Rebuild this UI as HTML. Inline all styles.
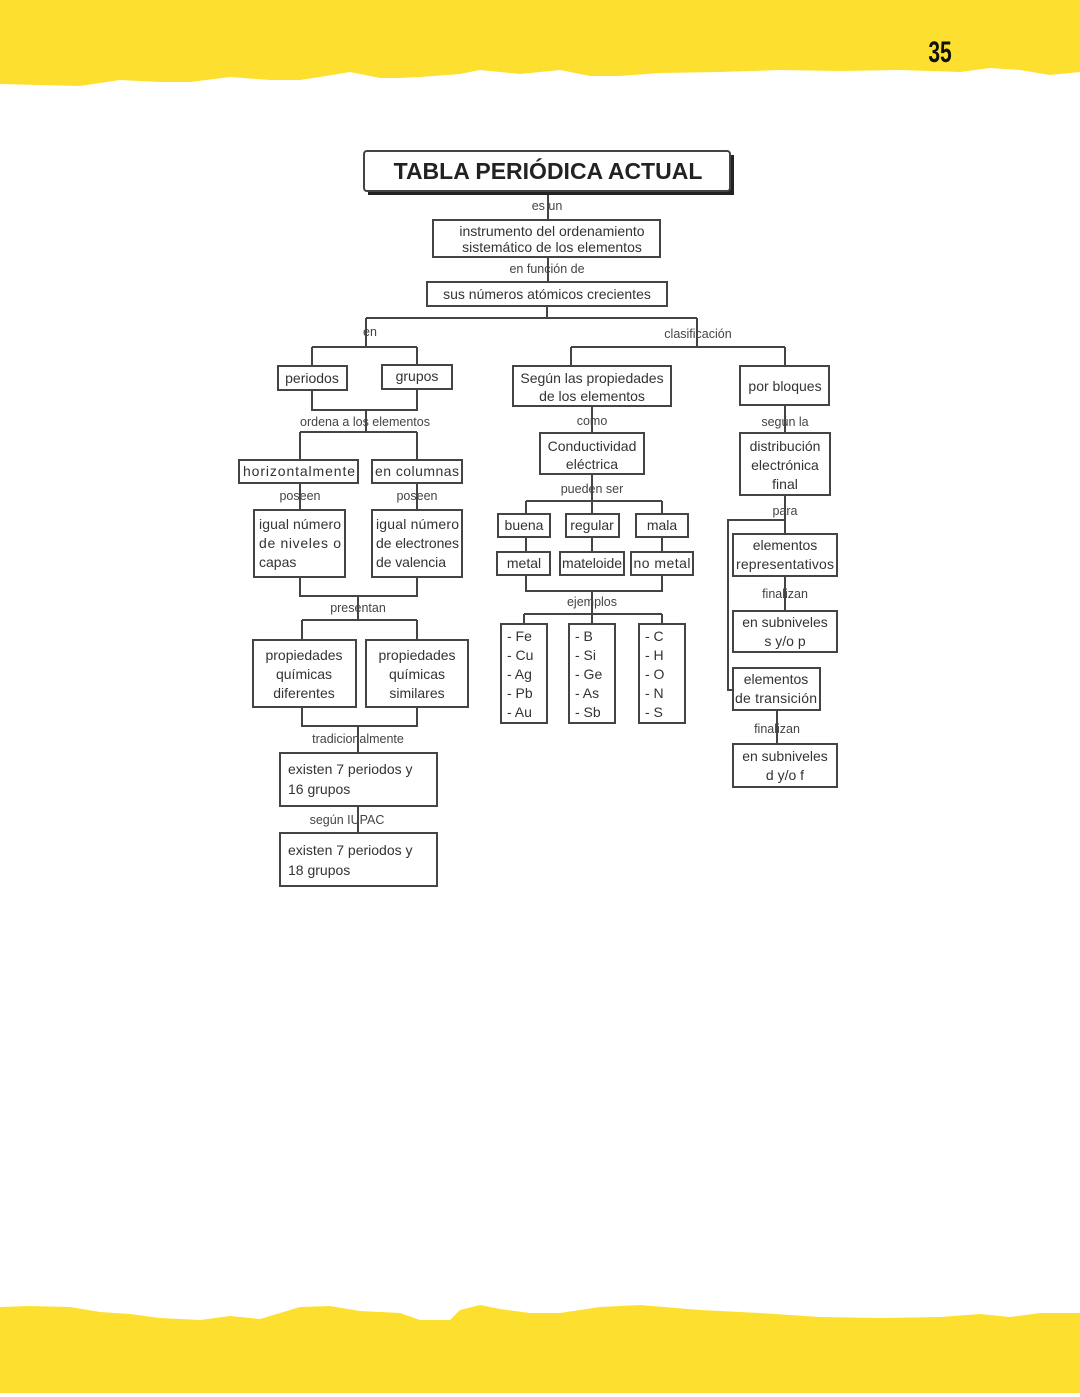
<!DOCTYPE html>
<html><head><meta charset="utf-8"><style>
html,body{margin:0;padding:0;background:#fff;}
svg{display:block;}
text{font-family:"Liberation Sans Narrow","Liberation Sans",sans-serif;fill:#333;}
.b{fill:#fff;stroke:#444;stroke-width:2;}
.l{stroke:#444;stroke-width:2;fill:none;}
.t{font-size:14px;text-anchor:middle;}
.s{font-size:12.5px;text-anchor:middle;fill:#444;}
.la{font-size:14px;text-anchor:start;}
</style></head><body>
<svg width="1080" height="1397" viewBox="0 0 1080 1397" xmlns="http://www.w3.org/2000/svg">
<!-- banners -->
<path d="M0 0H1080V72L1050 75L1020 70L990 68L960 72L900 70L840 71L780 70L720 72L660 73L620 76L590 76L560 70L520 74L480 70L460 74L420 77L400 78L380 78L350 72L320 77L300 80L270 80L230 77L190 82L160 82L120 80L80 86L40 85L0 84Z" fill="#fde02f"/>
<text x="940" y="62" style="font-family:'Liberation Sans Narrow','Liberation Sans',sans-serif;font-weight:bold;font-size:30px;fill:#111;text-anchor:middle" transform="translate(940 0) scale(0.7 1) translate(-940 0)">35</text>
<path d="M0 1307L30 1306L70 1307L100 1312L130 1314L160 1318L200 1320L230 1316L260 1319L300 1307L330 1306L360 1311L400 1313L420 1320L450 1320L460 1310L480 1305L500 1309L530 1313L560 1313L600 1307L640 1305L700 1310L760 1313L820 1317L880 1318L940 1317L980 1314L1010 1317L1040 1313L1080 1313V1393H0Z" fill="#fde02f"/>
<!-- connectors -->
<g class="l">
<path d="M548 191V220M548 257V282M547 306V318M366 318H697M366 318V347M697 318V347"/>
<path d="M312 347H417M312 347V366M417 347V366M312 390V410H417V389M366 410V432M300 432H417M300 432V460M417 432V460"/>
<path d="M300 483V510M417 483V510M300 577V596H417V577M358 596V620M302 620H417M302 620V640M417 620V640"/>
<path d="M302 707V726H417V707M358 726V753M358 806V833"/>
<path d="M571 347H785M571 347V366M785 347V366M592 406V433M592 474V501M526 501H662M526 501V514M592 501V514M662 501V514"/>
<path d="M526 537V552M592 537V552M662 537V552M526 575V591H662V575M592 591V614M524 614H662M524 614V624M592 614V624M662 614V624"/>
<path d="M785 405V433M785 495V520H728V690H733M785 520V534M785 576V611M777 710V744"/>
</g>
<!-- title -->
<rect x="368" y="155" width="366" height="40" fill="#222"/>
<rect x="364" y="151" width="366" height="40" rx="3" class="b"/>
<text x="548" y="179" style="font-family:'Liberation Sans',sans-serif;font-weight:bold;font-size:23px;text-anchor:middle;fill:#222">TABLA PERIÓDICA ACTUAL</text>
<text x="547" y="210" class="s">es un</text>
<rect x="433" y="220" width="227" height="37" class="b"/>
<text x="552" y="236" class="t">instrumento del ordenamiento</text>
<text x="552" y="252" class="t">sistemático de los elementos</text>
<text x="547" y="273" class="s">en función de</text>
<rect x="427" y="282" width="240" height="24" class="b"/>
<text x="547" y="299" class="t">sus números atómicos crecientes</text>
<text x="370" y="336" class="s">en</text>
<text x="698" y="338" class="s">clasificación</text>
<!-- left -->
<rect x="278" y="366" width="69" height="24" class="b"/><text x="312" y="383" class="t">periodos</text>
<rect x="382" y="365" width="70" height="24" class="b"/><text x="417" y="381" class="t">grupos</text>
<text x="365" y="426" class="s">ordena a los elementos</text>
<rect x="239" y="460" width="119" height="23" class="b"/><text x="299" y="476" class="t" textLength="112">horizontalmente</text>
<rect x="372" y="460" width="90" height="23" class="b"/><text x="417" y="476" class="t" textLength="84">en columnas</text>
<text x="300" y="500" class="s">poseen</text><text x="417" y="500" class="s">poseen</text>
<rect x="254" y="510" width="91" height="67" class="b"/>
<text x="259" y="529" class="la" textLength="82">igual número</text>
<text x="259" y="548" class="la" textLength="82">de  niveles  o</text>
<text x="259" y="567" class="la">capas</text>
<rect x="372" y="510" width="90" height="67" class="b"/>
<text x="376" y="529" class="la" textLength="83">igual número</text>
<text x="376" y="548" class="la" textLength="83">de electrones</text>
<text x="376" y="567" class="la" textLength="70">de valencia</text>
<text x="358" y="612" class="s">presentan</text>
<rect x="253" y="640" width="103" height="67" class="b"/>
<text x="304" y="660" class="t">propiedades</text><text x="304" y="679" class="t">químicas</text><text x="304" y="698" class="t">diferentes</text>
<rect x="366" y="640" width="102" height="67" class="b"/>
<text x="417" y="660" class="t">propiedades</text><text x="417" y="679" class="t">químicas</text><text x="417" y="698" class="t">similares</text>
<text x="358" y="743" class="s">tradicionalmente</text>
<rect x="280" y="753" width="157" height="53" class="b"/>
<text x="288" y="774" class="la">existen 7 periodos y</text><text x="288" y="794" class="la">16 grupos</text>
<text x="347" y="824" class="s">según IUPAC</text>
<rect x="280" y="833" width="157" height="53" class="b"/>
<text x="288" y="855" class="la">existen 7 periodos y</text><text x="288" y="875" class="la">18 grupos</text>
<!-- middle -->
<rect x="513" y="366" width="158" height="40" class="b"/>
<text x="592" y="383" class="t">Según las propiedades</text><text x="592" y="401" class="t">de los elementos</text>
<text x="592" y="425" class="s">como</text>
<rect x="540" y="433" width="104" height="41" class="b"/>
<text x="592" y="451" class="t">Conductividad</text><text x="592" y="469" class="t">eléctrica</text>
<text x="592" y="493" class="s">pueden ser</text>
<rect x="498" y="514" width="52" height="23" class="b"/><text x="524" y="530" class="t">buena</text>
<rect x="566" y="514" width="53" height="23" class="b"/><text x="592" y="530" class="t">regular</text>
<rect x="636" y="514" width="52" height="23" class="b"/><text x="662" y="530" class="t">mala</text>
<rect x="497" y="552" width="53" height="23" class="b"/><text x="524" y="568" class="t">metal</text>
<rect x="560" y="552" width="64" height="23" class="b"/><text x="592" y="568" class="t" textLength="60">mateloide</text>
<rect x="631" y="552" width="62" height="23" class="b"/><text x="662" y="568" class="t" textLength="57">no metal</text>
<text x="592" y="606" class="s">ejemplos</text>
<rect x="501" y="624" width="46" height="99" class="b"/>
<rect x="569" y="624" width="46" height="99" class="b"/>
<rect x="639" y="624" width="46" height="99" class="b"/>
<g class="la">
<text x="507" y="641" class="la">-  Fe</text><text x="507" y="660" class="la">-  Cu</text><text x="507" y="679" class="la">-  Ag</text><text x="507" y="698" class="la">-  Pb</text><text x="507" y="717" class="la">-  Au</text>
<text x="575" y="641" class="la">-  B</text><text x="575" y="660" class="la">-  Si</text><text x="575" y="679" class="la">-  Ge</text><text x="575" y="698" class="la">-  As</text><text x="575" y="717" class="la">-  Sb</text>
<text x="645" y="641" class="la">-  C</text><text x="645" y="660" class="la">-  H</text><text x="645" y="679" class="la">-  O</text><text x="645" y="698" class="la">-  N</text><text x="645" y="717" class="la">-  S</text>
</g>
<!-- right -->
<rect x="740" y="366" width="89" height="39" class="b"/><text x="785" y="391" class="t">por bloques</text>
<text x="785" y="426" class="s">según la</text>
<rect x="740" y="433" width="90" height="62" class="b"/>
<text x="785" y="451" class="t">distribución</text><text x="785" y="470" class="t">electrónica</text><text x="785" y="489" class="t">final</text>
<text x="785" y="515" class="s">para</text>
<rect x="733" y="534" width="104" height="42" class="b"/>
<text x="785" y="550" class="t">elementos</text><text x="785" y="569" class="t" textLength="98">representativos</text>
<text x="785" y="598" class="s">finalizan</text>
<rect x="733" y="611" width="104" height="41" class="b"/>
<text x="785" y="627" class="t">en subniveles</text><text x="785" y="646" class="t">s y/o p</text>
<rect x="733" y="668" width="87" height="42" class="b"/>
<text x="776" y="684" class="t">elementos</text><text x="776" y="703" class="t" textLength="82">de transición</text>
<text x="777" y="733" class="s">finalizan</text>
<rect x="733" y="744" width="104" height="43" class="b"/>
<text x="785" y="761" class="t">en subniveles</text><text x="785" y="780" class="t">d y/o f</text>
</svg>
</body></html>
